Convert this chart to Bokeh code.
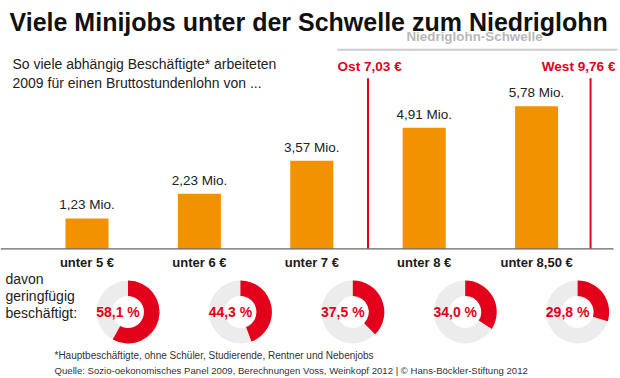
import numpy as np
from bokeh.plotting import figure
from bokeh.models import Range1d, ColumnDataSource
from bokeh.core.properties import value
from bokeh.embed import file_html
from bokeh.resources import INLINE

# ---------------- data ----------------
categories = ["unter 5 €", "unter 6 €", "unter 7 €", "unter 8 €", "unter 8,50 €"]
beschaeftigte_mio = [1.23, 2.23, 3.57, 4.91, 5.78]
value_labels = ["1,23 Mio.", "2,23 Mio.", "3,57 Mio.", "4,91 Mio.", "5,78 Mio."]
geringfuegig_pct = [58.1, 44.3, 37.5, 34.0, 29.8]
pct_labels = ["58,1 %", "44,3 %", "37,5 %", "34,0 %", "29,8 %"]
schwelle_labels = ["Ost 7,03 €", "West 9,76 €"]
schwelle_pos = [2.5, 4.48]   # position between categories

title = "Viele Minijobs unter der Schwelle zum Niedriglohn"
subtitle = ["So viele abhängig Beschäftigte* arbeiteten",
            "2009 für einen Bruttostundenlohn von ..."]
left_labels = ["davon", "geringfügig", "beschäftigt:"]
footnote_1 = "*Hauptbeschäftigte, ohne Schüler, Studierende, Rentner und Nebenjobs"
footnote_2 = "Quelle: Sozio-oekonomisches Panel 2009, Berechnungen Voss, Weinkopf 2012 | © Hans-Böckler-Stiftung 2012"

ORANGE = "#F39200"
RED = "#E2001A"
RING = "#ECECEC"
DARK = "#1a1a1a"
FONT = value("Liberation Sans")

W, H = 620, 378
# ---------------- figure ----------------
p = figure(width=W, height=H, output_backend="svg", toolbar_location=None,
           x_range=Range1d(0, W), y_range=Range1d(-H, 0),
           x_axis_type=None, y_axis_type=None, min_border=0,
           background_fill_color="white", border_fill_color="white")
p.outline_line_color = None
p.grid.visible = False

px_per_cat = 112.4
x0 = 86.5
p.extra_x_ranges = {"idx": Range1d((0 - x0) / px_per_cat, (W - x0) / px_per_cat)}
base = 248.3
px_per_mio = 24.67
p.extra_y_ranges = {"val": Range1d(-(H - base) / px_per_mio, base / px_per_mio)}

idx = list(range(len(categories)))
src = ColumnDataSource(dict(i=idx, v=beschaeftigte_mio, vl=value_labels, cat=categories,
                            pct=geringfuegig_pct, pl=pct_labels))

# title & subtitle
p.text(x=[9], y=[-21], text=[title], text_font=FONT, text_font_style="bold",
       text_font_size="25px", text_color="#111111", text_baseline="alphabetic")
p.text(x=[12, 12], y=[-63, -82], text=subtitle, text_font=FONT,
       text_font_size="14px", text_color="#222222", text_baseline="middle")

# Niedriglohn-Schwelle header
p.text(x=[474], y=[-36], text=["Niedriglohn-Schwelle"], text_font=FONT,
       text_font_style="bold", text_font_size="13.4px", text_color="#B8B8B8",
       text_align="center", text_baseline="middle")
p.segment(x0=[337], y0=[-49.3], x1=[617], y1=[-49.3], line_color="#CCCCCC", line_width=2)

# threshold lines and labels
p.segment(x0=schwelle_pos, x1=schwelle_pos, y0=[-77.7, -77.7], y1=[-base, -base],
          x_range_name="idx", line_color=RED, line_width=2)
p.text(x=[337], y=[-66], text=[schwelle_labels[0]], text_font=FONT, text_font_style="bold",
       text_font_size="13.6px", text_color=RED, text_align="left", text_baseline="middle")
p.text(x=[615], y=[-66], text=[schwelle_labels[1]], text_font=FONT, text_font_style="bold",
       text_font_size="13.6px", text_color=RED, text_align="right", text_baseline="middle")

# bars
p.vbar(x="i", top="v", bottom=0, width=0.383, source=src, x_range_name="idx",
       y_range_name="val", fill_color=ORANGE, line_color=None)
p.text(x="i", y="v", text="vl", source=src, x_range_name="idx", y_range_name="val",
       y_offset=-13.5, text_font=FONT, text_font_size="13.5px", text_color="#222222",
       text_align="center", text_baseline="middle")

# baseline
p.segment(x0=[0], y0=[-base], x1=[613], y1=[-base], line_color="#666666", line_width=1.2)

# category labels
p.text(x="i", y=-261.7, text="cat", source=src, x_range_name="idx",
       text_font=FONT, text_font_style="bold", text_font_size="13px", text_color=DARK,
       text_align="center", text_baseline="middle")

# left labels
p.text(x=[5, 5, 5], y=[-278, -295, -312], text=left_labels, text_font=FONT,
       text_font_size="14px", text_color="#222222", text_baseline="middle")

# donuts
donut_off = 0.365
dx = [i + donut_off for i in idx]
dy = [-311.5] * len(idx)
start = [np.pi / 2 - pc / 100 * 2 * np.pi for pc in geringfuegig_pct]
end = [np.pi / 2] * len(idx)
dsrc = ColumnDataSource(dict(x=dx, y=dy, s=start, e=end, pl=pct_labels))
p.annulus(x="x", y="y", inner_radius=16, outer_radius=31.5, inner_radius_units="screen",
          outer_radius_units="screen", source=dsrc, x_range_name="idx",
          fill_color=RING, line_color=None)
p.annular_wedge(x="x", y="y", inner_radius=16, outer_radius=31.5, start_angle="s",
                end_angle="e", direction="anticlock", inner_radius_units="screen",
                outer_radius_units="screen", source=dsrc, x_range_name="idx",
                fill_color=RED, line_color=None)
p.text(x="x", y="y", text="pl", source=dsrc, x_range_name="idx", x_offset=-10,
       text_font=FONT, text_font_style="bold", text_font_size="14px", text_color=RED,
       text_align="center", text_baseline="middle")

# footnotes
p.text(x=[54], y=[-355.3], text=[footnote_1], text_font=FONT,
       text_font_size="10px", text_color="#333333", text_baseline="middle")
p.text(x=[54], y=[-370.3], text=[footnote_2], text_font=FONT,
       text_font_size="9.6px", text_color="#333333", text_baseline="middle")

open("out.html", "w").write(file_html(p, INLINE))
